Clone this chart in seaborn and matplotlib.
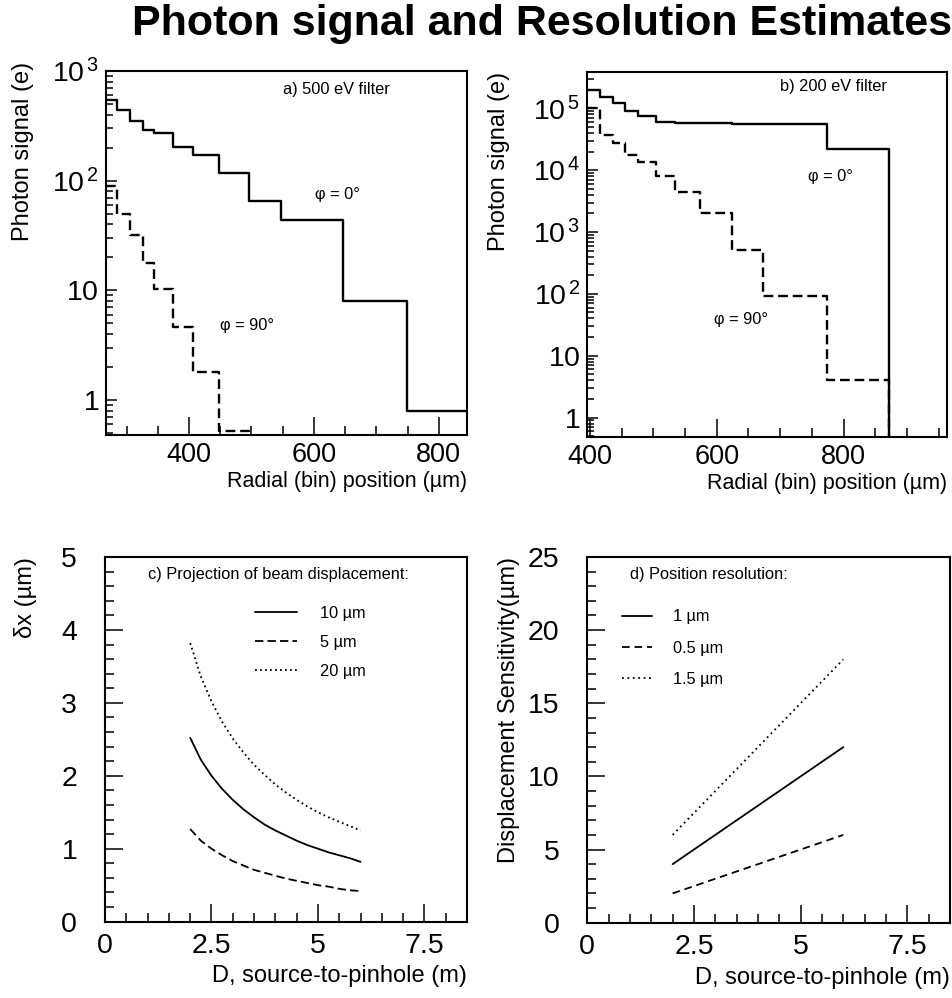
import numpy as np
import pandas as pd
import matplotlib
matplotlib.use("Agg")
import matplotlib.pyplot as plt
import seaborn as sns
from matplotlib.ticker import MultipleLocator, LogLocator, FuncFormatter, NullFormatter

# ---------------- data ----------------
title = "Photon signal and Resolution Estimates"

# a) 500 eV filter : histogram bin edges (um) and contents (e)
a_edges = [267, 285, 305, 326, 344, 375, 406, 448, 496, 548, 647, 749, 850]
a_phi0 = [550, 440, 350, 290, 274, 204, 173, 117, 65, 44, 8.0, 0.79]
a_phi90 = [89, 50, 32, 17.6, 10.4, 4.6, 1.8, 0.52, 0, 0, 0, 0]

# b) 200 eV filter
b_edges = [396, 416, 436, 455, 476, 505, 534, 574, 624, 673, 774, 871, 963]
b_phi0 = [2.0e5, 1.5e5, 1.23e5, 9.2e4, 7.5e4, 5.9e4, 5.75e4, 5.7e4, 5.6e4, 5.6e4, 2.2e4, 0]
b_phi90 = [1.0e5, 3.7e4, 2.7e4, 1.77e4, 1.38e4, 7.9e3, 4.5e3, 2.0e3, 505, 92, 4.1, 0]

# c) projection of beam displacement
c_D = [2.0, 2.25, 2.5, 2.75, 3.0, 3.25, 3.5, 3.75, 4.0, 4.25, 4.5, 4.75, 5.0, 5.25, 5.5, 5.75, 6.0]
c_10um = [2.52, 2.22, 2.00, 1.82, 1.67, 1.54, 1.43, 1.33, 1.25, 1.18, 1.11, 1.05, 1.00, 0.95, 0.91, 0.87, 0.82]
c_5um = [1.27, 1.11, 1.00, 0.91, 0.83, 0.77, 0.71, 0.67, 0.63, 0.59, 0.56, 0.53, 0.50, 0.48, 0.45, 0.43, 0.42]
c_20um = [3.82, 3.36, 3.02, 2.74, 2.51, 2.32, 2.15, 2.01, 1.88, 1.77, 1.67, 1.58, 1.50, 1.43, 1.37, 1.31, 1.25]
c_labels = ["10 \u00b5m", "5 \u00b5m", "20 \u00b5m"]

# d) position resolution
d_D = [2.0, 6.0]
d_1um = [4.0, 12.0]
d_05um = [2.0, 6.0]
d_15um = [6.0, 18.0]
d_labels = ["1 \u00b5m", "0.5 \u00b5m", "1.5 \u00b5m"]

# ---------------- style ----------------
sns.set_style("ticks")
plt.rcParams["font.family"] = ["Liberation Sans", "DejaVu Sans"]
plt.rcParams["mathtext.fontset"] = "custom"
plt.rcParams["mathtext.rm"] = "Liberation Sans"
plt.rcParams["mathtext.it"] = "Liberation Sans"
plt.rcParams["mathtext.default"] = "regular"
plt.rcParams["lines.scale_dashes"] = False
plt.rcParams["axes.edgecolor"] = "black"
plt.rcParams["axes.linewidth"] = 1.5
plt.rcParams["text.color"] = "black"
plt.rcParams["axes.labelcolor"] = "black"
plt.rcParams["xtick.color"] = "black"
plt.rcParams["ytick.color"] = "black"

TICK_FS = 20.5
XTICK_AB_FS = 19.5
LAB_FS = 17
XLAB_AB_FS = 15.5
SMALL_FS = 11.8

fig = plt.figure(figsize=(9.52, 9.98), dpi=100)
fig.patch.set_facecolor("white")

ax_a = fig.add_axes([0.1113, 0.5641, 0.3792, 0.3647])
ax_b = fig.add_axes([0.6169, 0.5624, 0.3778, 0.3657])
ax_c = fig.add_axes([0.1103, 0.0765, 0.3803, 0.3654])
ax_d = fig.add_axes([0.6169, 0.0755, 0.3810, 0.3664])

fig.text(0.569, 0.965, title, ha="center", va="baseline", fontsize=31,
         fontweight="bold", color="black")


def log_label(v, pos):
    e = int(round(np.log10(v)))
    if e == 0:
        return r"1$\;\;$"
    if e == 1:
        return r"10$\;\;$"
    return r"10$^{\,%d}$" % e


def draw_hist(ax, edges, vals, dashes):
    v = np.asarray(vals, dtype=float)
    v = np.where(v > 0, v, 1e-3)
    df = pd.DataFrame({"x": edges, "y": np.append(v, v[-1])})
    kw = dict(color="black", lw=1.7)
    if dashes is not None:
        kw["dashes"] = dashes
    sns.lineplot(data=df, x="x", y="y", ax=ax, drawstyle="steps-post",
                 estimator=None, sort=False, legend=False, **kw)


def style_common(ax):
    for s in ax.spines.values():
        s.set_visible(True)
        s.set_linewidth(1.5)
        s.set_color("black")
    ax.tick_params(which="both", direction="in", top=False, right=False,
                   colors="black", labelsize=TICK_FS, width=1.1)


# ---- panel a ----
ax_a.set_yscale("log")
draw_hist(ax_a, a_edges, a_phi0, None)
draw_hist(ax_a, a_edges, a_phi90, (7, 3.5))
ax_a.set_xlim(267, 845)
ax_a.set_ylim(0.48, 1000)
# ---- panel b ----
ax_b.set_yscale("log")
draw_hist(ax_b, b_edges, b_phi0, None)
draw_hist(ax_b, b_edges, b_phi90, (7, 3.5))
ax_b.set_xlim(396, 963)
ax_b.set_ylim(0.49, 3.9e5)

for ax in (ax_a, ax_b):
    style_common(ax)
    ax.xaxis.set_major_locator(MultipleLocator(200))
    ax.xaxis.set_minor_locator(MultipleLocator(50))
    ax.yaxis.set_major_locator(LogLocator(base=10, numticks=12))
    ax.yaxis.set_minor_locator(LogLocator(base=10, subs=np.arange(2, 10), numticks=12))
    ax.yaxis.set_major_formatter(FuncFormatter(log_label))
    ax.yaxis.set_minor_formatter(NullFormatter())
    ax.tick_params(axis="x", which="major", length=13, pad=5, labelsize=XTICK_AB_FS)
    ax.tick_params(axis="x", which="minor", length=6.5)
    ax.tick_params(axis="y", which="major", length=8, pad=5)
    ax.tick_params(axis="y", which="minor", length=5)
    ax.set_xlabel("Radial (bin) position (\u00b5m)", fontsize=XLAB_AB_FS, loc="right")
    ax.set_ylabel("Photon signal (e)", fontsize=LAB_FS, loc="top")
    ax.xaxis.set_label_coords(1.0, -0.1)
    ax.yaxis.label.set_va("center")

ax_a.yaxis.set_label_coords(-0.23, 1.025)
ax_b.yaxis.set_label_coords(-0.245, 1.0)

ax_a.text(0.49, 0.95, "a) 500 eV filter", transform=ax_a.transAxes, fontsize=SMALL_FS,
          ha="left", va="center")
ax_a.text(0.58, 0.66, "\u03c6 = 0\u00b0", transform=ax_a.transAxes, fontsize=SMALL_FS,
          ha="left", va="center")
ax_a.text(0.315, 0.30, "\u03c6 = 90\u00b0", transform=ax_a.transAxes, fontsize=SMALL_FS,
          ha="left", va="center")
ax_b.text(0.537, 0.959, "b) 200 eV filter", transform=ax_b.transAxes, fontsize=SMALL_FS,
          ha="left", va="center")
ax_b.text(0.614, 0.713, "\u03c6 = 0\u00b0", transform=ax_b.transAxes, fontsize=SMALL_FS,
          ha="left", va="center")
ax_b.text(0.353, 0.32, "\u03c6 = 90\u00b0", transform=ax_b.transAxes, fontsize=SMALL_FS,
          ha="left", va="center")

# ---- panel c ----
dfc = pd.DataFrame({"D": c_D, "a": c_10um, "b": c_5um, "c": c_20um})
sns.lineplot(data=dfc, x="D", y="a", ax=ax_c, color="black", lw=1.3, label=c_labels[0], legend=False)
sns.lineplot(data=dfc, x="D", y="b", ax=ax_c, color="black", lw=1.3, dashes=(6, 3), label=c_labels[1], legend=False)
sns.lineplot(data=dfc, x="D", y="c", ax=ax_c, color="black", lw=1.3, dashes=(1.3, 2.3), label=c_labels[2], legend=False)
ax_c.set_xlim(0, 8.5)
ax_c.set_ylim(0, 5)
ax_c.yaxis.set_major_locator(MultipleLocator(1))
ax_c.yaxis.set_minor_locator(MultipleLocator(0.2))
ax_c.set_ylabel("\u03b4x (\u00b5m)", fontsize=LAB_FS, loc="top")
ax_c.yaxis.set_label_coords(-0.22, 1.0)
ax_c.text(0.118, 0.951, "c) Projection of beam displacement:", transform=ax_c.transAxes,
          fontsize=SMALL_FS, ha="left", va="center")
ax_c.legend(loc="upper left", bbox_to_anchor=(0.413, 0.865), frameon=False, fontsize=SMALL_FS,
            handlelength=2.6, handletextpad=1.4, labelspacing=0.85, borderaxespad=0, borderpad=0)

# ---- panel d ----
dfd = pd.DataFrame({"D": d_D, "a": d_1um, "b": d_05um, "c": d_15um})
sns.lineplot(data=dfd, x="D", y="a", ax=ax_d, color="black", lw=1.3, label=d_labels[0], legend=False)
sns.lineplot(data=dfd, x="D", y="b", ax=ax_d, color="black", lw=1.3, dashes=(5.5, 3.5), label=d_labels[1], legend=False)
sns.lineplot(data=dfd, x="D", y="c", ax=ax_d, color="black", lw=1.3, dashes=(1.3, 2.6), label=d_labels[2], legend=False)
ax_d.set_xlim(0, 8.5)
ax_d.set_ylim(0, 25)
ax_d.yaxis.set_major_locator(MultipleLocator(5))
ax_d.yaxis.set_minor_locator(MultipleLocator(1))
ax_d.set_ylabel("Displacement Sensitivity(\u00b5m)", fontsize=LAB_FS, loc="top")
ax_d.yaxis.set_label_coords(-0.215, 1.0)
ax_d.text(0.118, 0.951, "d) Position resolution:", transform=ax_d.transAxes,
          fontsize=SMALL_FS, ha="left", va="center")
ax_d.legend(loc="upper left", bbox_to_anchor=(0.096, 0.857), frameon=False, fontsize=SMALL_FS,
            handlelength=1.8, handletextpad=1.3, labelspacing=1.0, borderaxespad=0, borderpad=0)

for ax in (ax_c, ax_d):
    style_common(ax)
    ax.xaxis.set_major_locator(MultipleLocator(2.5))
    ax.xaxis.set_minor_locator(MultipleLocator(0.5))
    ax.xaxis.set_major_formatter(FuncFormatter(lambda v, p: f"{v:g}"))
    ax.yaxis.set_major_formatter(FuncFormatter(lambda v, p: f"{v:g}"))
    ax.tick_params(axis="both", which="major", length=13, pad=8)
    ax.tick_params(axis="both", which="minor", length=6.5)
    ax.tick_params(axis="y", which="major", pad=20)
    ax.set_xlabel("D, source-to-pinhole (m)", fontsize=LAB_FS, loc="right")
    ax.xaxis.set_label_coords(1.0, -0.12)
    ax.yaxis.label.set_va("center")

fig.savefig("out.png", dpi=100, facecolor="white")
